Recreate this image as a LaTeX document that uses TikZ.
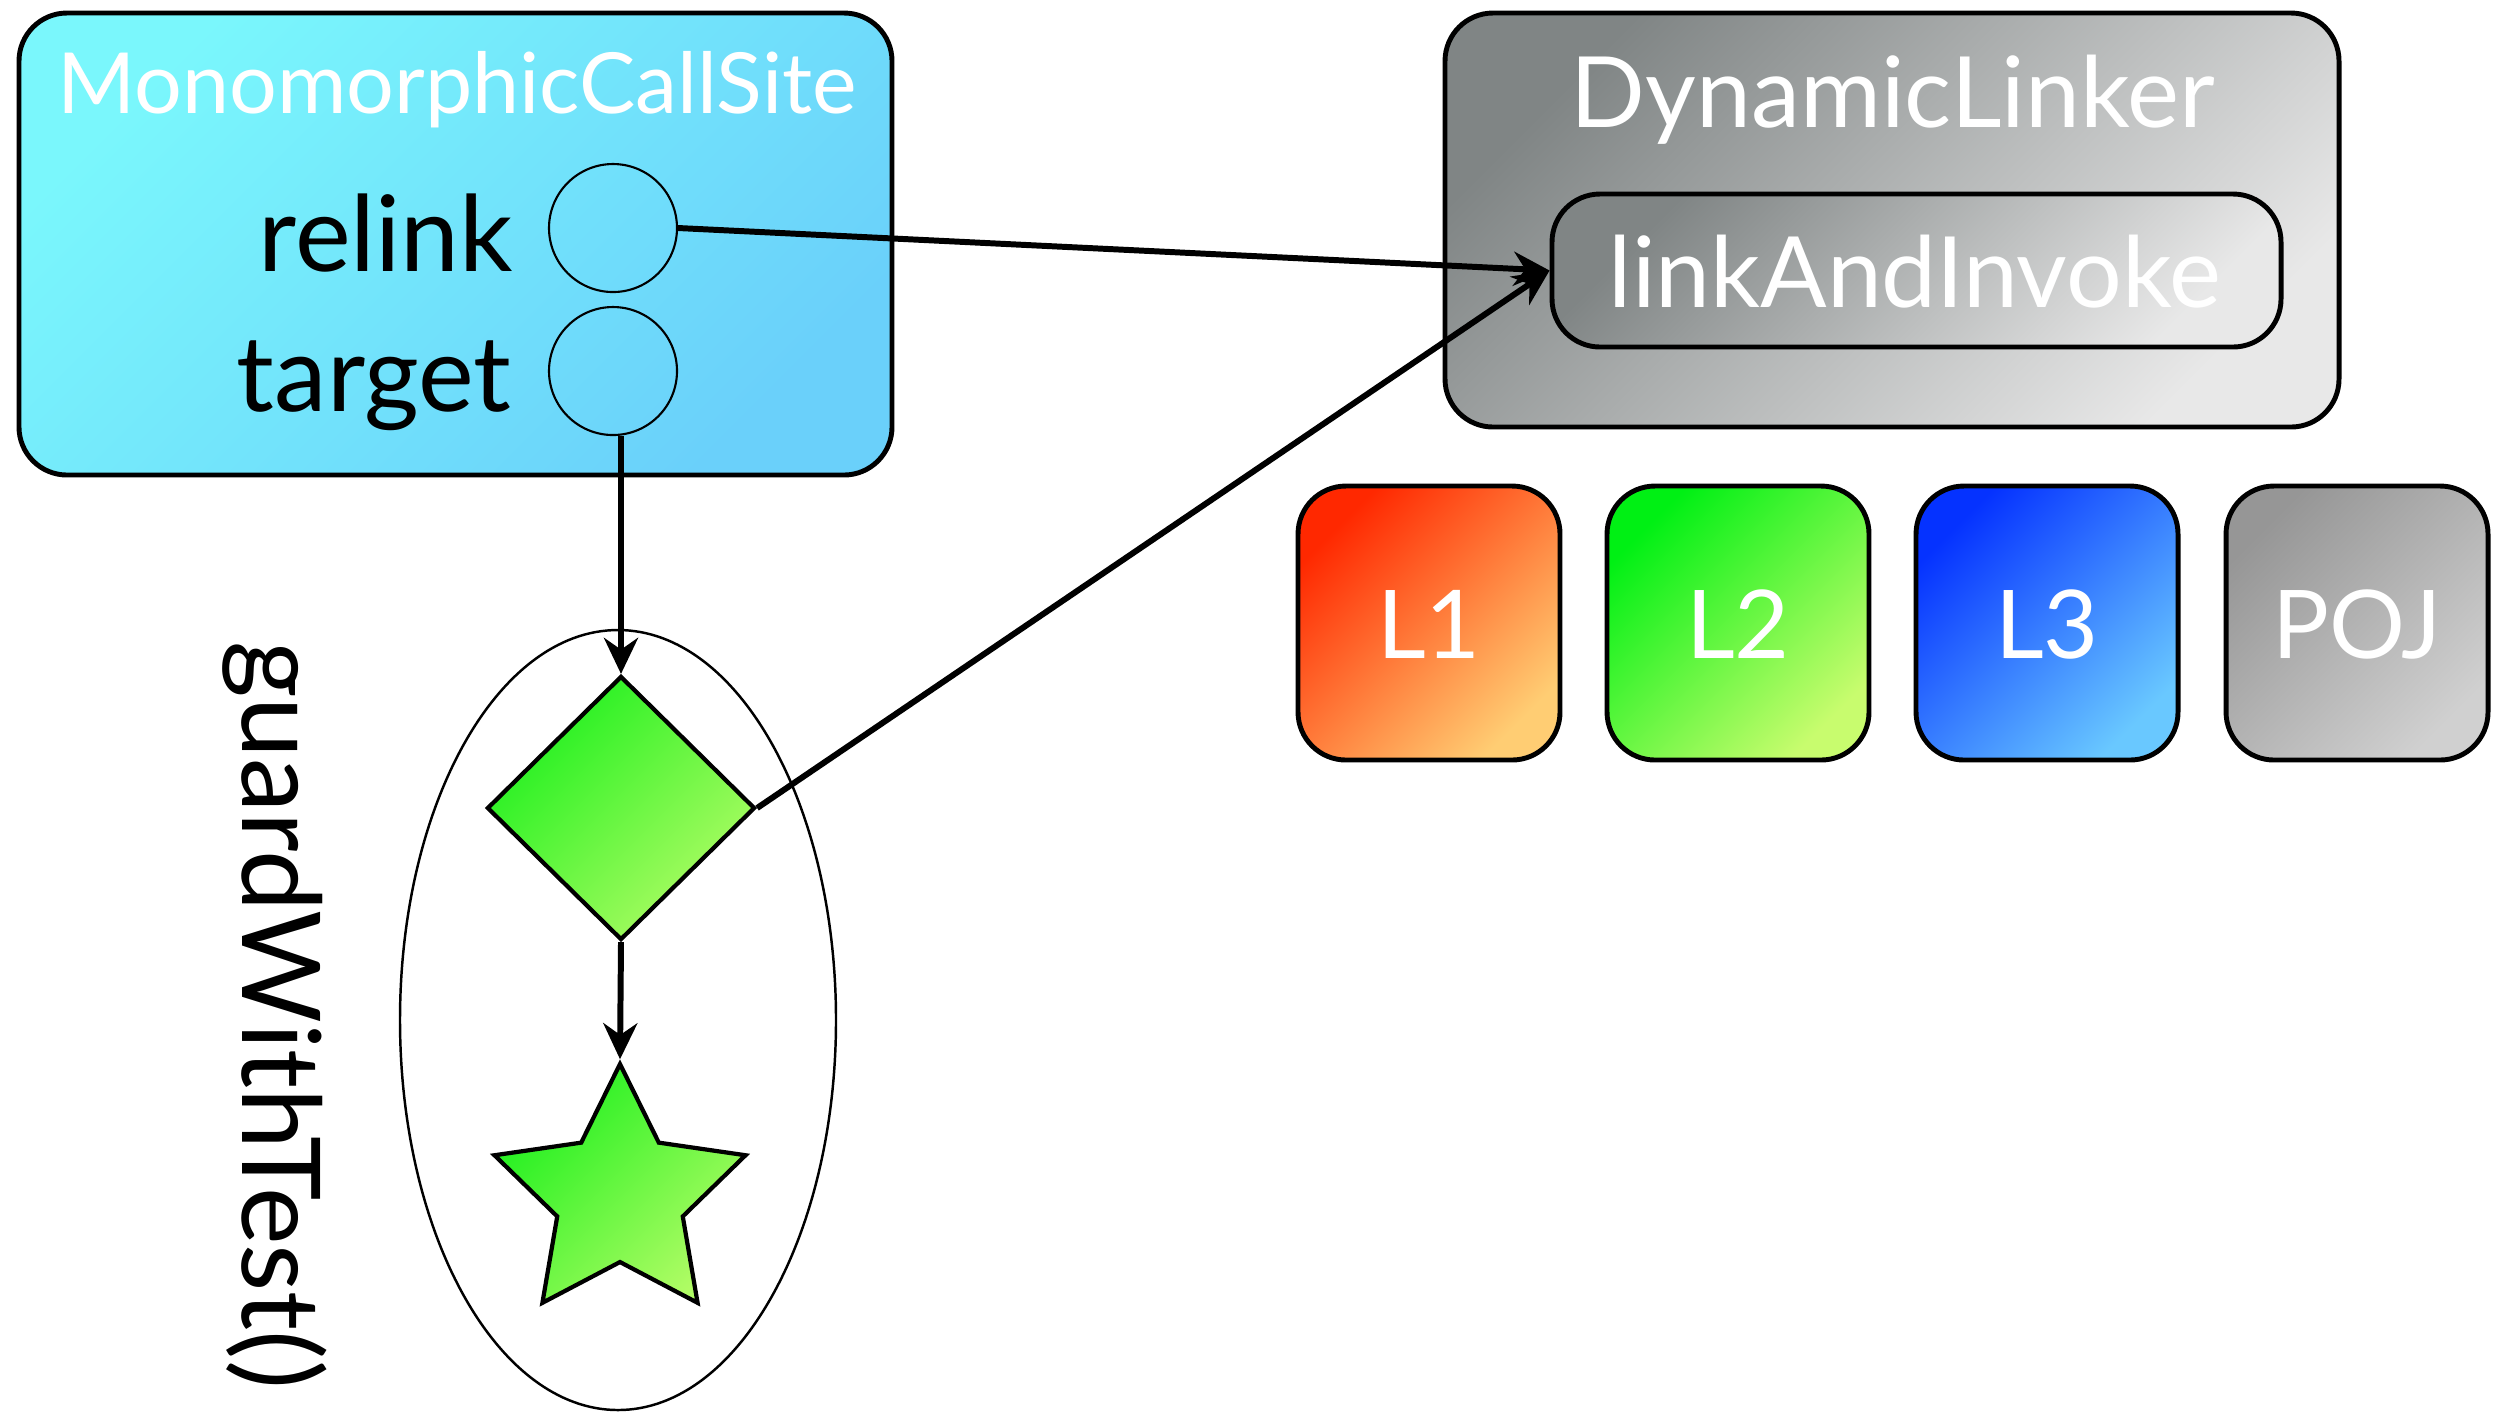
\documentclass[tikz,border=0pt]{standalone}
\usepackage{fontspec}
\setmainfont{Lato}
\usetikzlibrary{shapes.geometric,arrows.meta}

\definecolor{mcsA}{RGB}{122,247,252}
\definecolor{mcsB}{RGB}{106,208,250}
\definecolor{dlA}{RGB}{128,133,133}
\definecolor{dlB}{RGB}{232,232,232}
\definecolor{redA}{RGB}{255,40,0}
\definecolor{redB}{RGB}{255,205,115}
\definecolor{grnA}{RGB}{0,240,20}
\definecolor{grnB}{RGB}{200,252,110}
\definecolor{bluA}{RGB}{5,50,255}
\definecolor{bluB}{RGB}{105,200,255}
\definecolor{pojA}{RGB}{150,150,150}
\definecolor{pojB}{RGB}{208,208,208}
\definecolor{shpA}{RGB}{30,240,30}
\definecolor{shpB}{RGB}{175,252,100}

\begin{document}
\begin{tikzpicture}[
    box/.style={draw=black, line width=1.4pt, rounded corners=0.48cm, inner sep=0pt},
    slot/.style={circle, draw=black, line width=0.6pt, minimum size=1.28cm, inner sep=0pt},
    flow/.style={-{Stealth[length=0.36cm, width=0.34cm]}, line width=1.7pt},
    whitelbl/.style={text=white, anchor=base, inner sep=0pt},
    slotlbl/.style={anchor=base east, inner sep=0pt, font=\fontsize{30}{30}\selectfont},
    green/.style={draw=black, line width=1.2pt, inner sep=0pt,
        top color=shpA, bottom color=shpB, shading angle=45},
]
    \useasboundingbox (0,0) rectangle (24.98,-14.13);

    % call site with its two slots
    \node[box, minimum width=8.73cm, minimum height=4.62cm,
        top color=mcsA, bottom color=mcsB, shading angle=45] (mcs) at (4.555,-2.44) {};
    \node[whitelbl, font=\fontsize{24}{24}\selectfont] (mcs-title) at (4.57,-1.13) {MonomorphicCallSite};
    \node[slot] (relink) at (6.13,-2.28) {};
    \node[slot] (target) at (6.13,-3.71) {};
    \node[slotlbl] (relink-lbl) at (5.14,-2.71) {relink};
    \node[slotlbl] (target-lbl) at (5.12,-4.11) {target};

    % linker
    \node[box, minimum width=8.94cm, minimum height=4.14cm,
        top color=dlA, bottom color=dlB, shading angle=45] (dl) at (18.92,-2.20) {};
    \node[whitelbl, font=\fontsize{28}{28}\selectfont] (dl-title) at (18.93,-1.27) {DynamicLinker};
    \node[box, minimum width=7.29cm, minimum height=1.53cm,
        top color=dlA, bottom color=dlB, shading angle=45] (lai) at (19.165,-2.705) {};
    \node[whitelbl, font=\fontsize{28}{28}\selectfont] (lai-lbl) at (19.15,-3.07) {linkAndInvoke};

    % languages
    \foreach \name/\lbl/\cola/\colb/\x in {%
        l1/L1/redA/redB/14.29,%
        l2/L2/grnA/grnB/17.38,%
        l3/L3/bluA/bluB/20.47,%
        poj/POJ/pojA/pojB/23.57%
    }{
        \node[box, minimum width=2.62cm, minimum height=2.74cm,
            top color=\cola, bottom color=\colb, shading angle=45] (\name) at (\x,-6.23) {};
        \node[whitelbl, font=\fontsize{27}{27}\selectfont] (\name-lbl) at (\x,-6.58) {\lbl};
    }

    % guard
    \node[ellipse, draw=black, line width=0.7pt, minimum width=4.36cm, minimum height=7.80cm,
        inner sep=0pt] (guard) at (6.18,-10.20) {};
    \node[diamond, green, minimum width=2.68cm, minimum height=2.64cm] (test) at (6.21,-8.08) {};
    \node[star, star points=5, star point ratio=2, green, minimum size=2.64cm] (fast) at (6.20,-11.96) {};
    \node[anchor=base, rotate=-90, inner sep=0pt, font=\fontsize{31}{31}\selectfont] (guard-lbl)
        at (2.42,-10.15) {guardWithTest()};

    \draw[flow] (relink.east) -- (lai.west);
    \draw[flow] (test.east) -- (lai.west);
    \draw[flow] (target.south -| test.north) -- (test.north);
    \draw[flow] (test.south) -- (fast.north);
\end{tikzpicture}
\end{document}
